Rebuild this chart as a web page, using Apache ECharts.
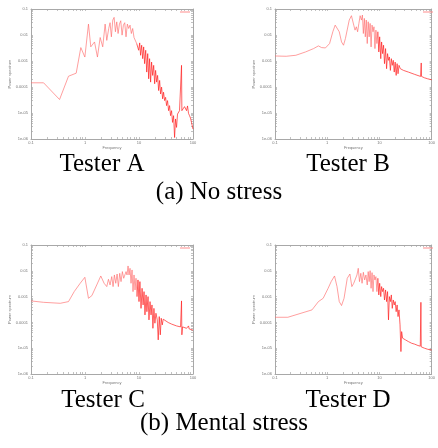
<!DOCTYPE html>
<html>
<head>
<meta charset="utf-8">
<script src="https://cdn.jsdelivr.net/npm/echarts@6/dist/echarts.min.js"></script>
<style>
  html, body { margin: 0; padding: 0; background: #fff; }
  #chart { width: 438px; height: 448px; }
</style>
</head>
<body>
<div id="chart"></div>
<script>
// power spectra (frequency, power)
var freqA = [0.1, 0.171, 0.338, 0.495, 0.687, 0.837, 0.994, 1.16, 1.28, 1.50,
  1.70, 1.91, 2.13, 2.36, 2.53, 2.75, 2.91, 3.08, 3.27, 3.46,
  3.66, 3.87, 4.10, 4.34, 4.59, 4.86, 5.14, 5.44, 5.75, 6.09,
  6.45, 6.82, 7.22, 7.64, 8.09, 8.56, 9.06, 9.58, 9.86, 10.3,
  10.7, 11.2, 11.7, 12.2, 12.7, 13.3, 13.9, 14.5, 15.1, 15.7,
  16.4, 17.1, 17.9, 18.7, 19.5, 20.3, 21.2, 22.1, 23.1, 24.1,
  25.1, 26.2, 27.4, 28.5, 29.8, 31.1, 32.4, 33.8, 35.3, 36.8,
  38.4, 40.1, 41.8, 43.7, 45.6, 47.5, 49.6, 51.7, 54.0, 56.3,
  58.8, 61.3, 62.2, 66.8, 69.7, 72.7, 75.9, 79.2, 82.6, 86.2,
  89.9, 93.8, 100];
var powerA = [1.45e-4, 1.45e-4, 3.3e-5, 2.6e-4, 3.4e-4, 3.28e-3, 1.42e-3, 0.0263, 3.5e-3, 5.4e-3,
  1.42e-3, 8.0e-3, 3.5e-3, 0.0263, 6.2e-3, 0.0178, 0.0297, 8.5e-3, 0.0375, 0.0476,
  0.0133, 0.032, 0.0114, 0.0263, 0.0353, 9.9e-3, 0.024, 0.0297, 8.5e-3, 0.0263,
  0.0178, 0.024, 0.0114, 0.0178, 8.0e-3, 8.5e-3, 4.7e-3, 5.4e-3, 2.59e-3, 4.97e-3,
  1.66e-3, 4.04e-3, 1.23e-3, 3.48e-3, 7.9e-4, 2.59e-3, 3.75e-4, 1.92e-3, 2.07e-4, 1.23e-3,
  1.54e-4, 9.1e-4, 2.79e-4, 6.8e-4, 1.33e-4, 4.35e-4, 1.54e-4, 2.79e-4, 7.3e-5, 1.79e-4,
  5.4e-5, 9.9e-5, 3.5e-5, 6.3e-5, 3.0e-5, 4.0e-5, 1.92e-5, 3.0e-5, 1.23e-5, 1.92e-5,
  7.9e-6, 1.23e-5, 4.35e-6, 7.9e-6, 1.14e-6, 5.9e-6, 2.79e-6, 9.1e-6, 7.9e-6, 1.23e-5,
  1.06e-5, 6.8e-4, 1.23e-5, 1.43e-5, 1.76e-5, 1.56e-5, 1.23e-5, 1.87e-5, 9.7e-6, 7.9e-6,
  6.4e-6, 4.35e-6, 2.4e-6];

var freqB = [0.1, 0.164, 0.251, 0.385, 0.547, 0.678, 0.780, 0.925, 1.11, 1.28,
  1.42, 1.54, 1.70, 1.88, 2.05, 2.23, 2.42, 2.64, 2.91, 3.22,
  3.41, 3.61, 3.82, 4.04, 4.27, 4.52, 4.72, 4.92, 5.14, 5.36,
  5.59, 5.84, 6.09, 6.35, 6.63, 6.92, 7.22, 7.53, 7.86, 8.20,
  8.56, 8.93, 9.32, 9.72, 10.1, 10.6, 11.0, 11.5, 12.0, 12.5,
  13.1, 13.7, 14.3, 14.9, 15.5, 16.2, 16.9, 17.6, 18.4, 19.2,
  20.0, 20.9, 21.8, 22.7, 23.7, 25.1, 28.9, 35.8, 47.5, 61.3,
  63.1, 64.0, 72.7, 83.8, 100];
var powerB = [1.56e-3, 1.52e-3, 1.66e-3, 2.23e-3, 3.0e-3, 3.81e-3, 3.28e-3, 3.18e-3, 4.69e-3, 0.0133,
  0.024, 0.0255, 0.0133, 5.4e-3, 4.04e-3, 7.3e-3, 8.5e-3, 0.0375, 0.0552, 0.024,
  0.0154, 0.0207, 0.0133, 0.0279, 0.0552, 0.0375, 0.0586, 0.0114, 0.0435, 8.5e-3,
  0.0375, 4.69e-3, 0.0323, 8.5e-3, 0.0279, 3.48e-3, 0.024, 0.0133, 0.0207, 3.0e-3,
  0.0154, 4.69e-3, 0.0133, 2.23e-3, 8.5e-3, 1.23e-3, 5.4e-3, 1.92e-3, 4.04e-3, 7.9e-4,
  3.0e-3, 5.05e-4, 1.92e-3, 1.06e-3, 1.43e-3, 4.35e-4, 1.23e-3, 6.8e-4, 1.06e-3, 3.75e-4,
  9.1e-4, 2.79e-4, 7.9e-4, 3.24e-4, 6.8e-4, 5.05e-4, 4.35e-4, 3.75e-4, 3.05e-4, 2.55e-4,
  8.4e-4, 2.55e-4, 2.26e-4, 2.07e-4, 1.89e-4];

var freqC = [0.1, 0.171, 0.348, 0.495, 0.631, 0.814, 0.994, 1.16, 1.34, 1.65,
  1.96, 2.26, 2.53, 2.72, 2.91, 3.13, 3.31, 3.50, 3.71, 3.93,
  4.15, 4.40, 4.65, 4.92, 5.21, 5.51, 5.75, 6.00, 6.27, 6.54,
  6.82, 7.12, 7.43, 7.75, 8.09, 8.44, 8.80, 9.19, 9.58, 10.0,
  10.4, 10.9, 11.4, 11.9, 12.4, 12.9, 13.5, 14.0, 14.7, 15.3,
  16.0, 16.7, 17.4, 18.1, 18.9, 19.7, 20.6, 21.8, 22.7, 23.7,
  24.8, 25.8, 27.0, 28.1, 30.2, 34.8, 40.1, 49.6, 58.8, 61.3,
  62.2, 64.0, 75.9, 82.6, 84.9, 100];
var powerC = [6.8e-4, 6.0e-4, 5.5e-4, 6.4e-4, 1.56e-3, 3.28e-3, 5.6e-3, 8.6e-4, 1.09e-3, 2.83e-3,
  6.3e-3, 3.28e-3, 2.44e-3, 4.69e-3, 2.83e-3, 5.95e-3, 2.44e-3, 6.9e-3, 3.28e-3, 7.5e-3,
  2.44e-3, 8.0e-3, 3.81e-3, 9.3e-3, 5.13e-3, 4.42e-3, 9.3e-3, 6.9e-3, 0.0154, 6.9e-3,
  0.0125, 3.28e-3, 0.0108, 1.56e-3, 6.9e-3, 1.81e-3, 5.13e-3, 1.0e-3, 4.42e-3, 6.4e-4,
  3.81e-3, 3.5e-4, 2.1e-3, 4.75e-4, 1.56e-3, 1.95e-4, 1.16e-3, 2.6e-4, 1.0e-3, 1.25e-4,
  6.4e-4, 1.95e-4, 4.75e-4, 5.9e-5, 3.5e-4, 9.3e-5, 2.26e-4, 1.25e-4, 2.1e-5, 1.68e-4,
  3.3e-5, 1.45e-4, 8.0e-5, 1.33e-4, 1.16e-4, 9.9e-5, 8.6e-5, 7.3e-5, 6.7e-5, 6.8e-4,
  3.3e-5, 6.7e-5, 5.9e-5, 7.3e-5, 5.6e-5, 5.0e-5];

var freqD = [0.1, 0.176, 0.511, 0.678, 0.837, 1.04, 1.19, 1.38, 1.54, 1.70,
  1.88, 2.10, 2.42, 2.72, 2.96, 3.22, 3.50, 3.71, 3.93, 4.15,
  4.40, 4.65, 4.92, 5.21, 5.51, 5.84, 6.09, 6.35, 6.63, 6.92,
  7.22, 7.53, 7.86, 8.20, 8.56, 8.93, 9.32, 9.72, 10.1, 10.6,
  11.0, 11.5, 12.0, 12.5, 13.1, 13.7, 14.3, 14.9, 15.5, 16.2,
  16.9, 17.6, 18.4, 19.2, 20.0, 20.9, 21.8, 22.7, 23.7, 24.8,
  25.8, 26.6, 27.8, 28.9, 30.2, 31.5, 35.8, 41.2, 44.3, 47.5,
  54.7, 60.5, 62.2, 63.1, 72.7, 83.8, 100];
var powerD = [1.58e-4, 1.58e-4, 3.05e-4, 6.4e-4, 8.6e-4, 2.1e-3, 3.81e-3, 6.3e-3, 2.44e-3, 6.4e-4,
  4.5e-4, 8.6e-4, 5.13e-3, 7.5e-3, 2.44e-3, 3.28e-3, 2.83e-3, 6.9e-3, 0.0125, 3.81e-3,
  8.0e-3, 3.28e-3, 8.75e-3, 4.42e-3, 6.9e-3, 2.83e-3, 9.3e-3, 3.81e-3, 0.0101, 2.1e-3,
  8.5e-3, 1.56e-3, 6.9e-3, 4.42e-3, 5.95e-3, 1.56e-3, 5.13e-3, 1.16e-3, 3.28e-3, 1.0e-3,
  2.44e-3, 1.56e-3, 2.1e-3, 7.4e-4, 1.81e-3, 6.4e-4, 1.56e-3, 1.25e-4, 1.0e-3, 6.4e-4,
  1.16e-3, 3.5e-4, 7.4e-4, 4.75e-4, 6.4e-4, 2.6e-4, 4.75e-4, 1.68e-4, 3.05e-4, 8.0e-5,
  7.4e-6, 4.4e-5, 2.44e-5, 2.8e-5, 2.25e-5, 2.1e-5, 1.81e-5, 1.56e-5, 1.81e-5, 1.43e-5,
  1.27e-5, 1.2e-5, 6.0e-4, 1.13e-5, 1.0e-5, 9.1e-6, 8.5e-6];

var xTickLabels = ['0.1', '1', '10', '100'];
var yTickLabels = ['1e-06', '1e-05', '0.0001', '0.001', '0.01', '0.1'];
var testerNames = ['Tester A', 'Tester B', 'Tester C', 'Tester D'];
var groupCaptions = ['(a) No stress', '(b) Mental stress'];

var freqs = [freqA, freqB, freqC, freqD];
var powers = [powerA, powerB, powerC, powerD];

var grids = [
  {left: 31, top: 9, width: 162, height: 130},
  {left: 275, top: 9, width: 161, height: 130},
  {left: 31, top: 245, width: 162, height: 129},
  {left: 275, top: 245, width: 161, height: 129}
];

// gnuplot style log ticks: 1..9 in every decade
function decadeTicks(lo, hi) {
  var out = [];
  for (var e = lo; e < hi; e++) {
    for (var m = 1; m < 10; m++) out.push(+(m * Math.pow(10, e)).toPrecision(3));
  }
  out.push(Math.pow(10, hi));
  return out;
}
var xTicks = decadeTicks(-1, 2);
var yTicks = decadeTicks(-6, -1);

var frameColor = '#a8a8a8';
var labelStyle = {fontSize: 4, color: '#777', fontFamily: 'Liberation Sans'};
var noisyFrom = 9; // above ~9 Hz the trace is so dense it prints darker red

var xAxes = [], yAxes = [], series = [], legends = [];
grids.forEach(function (g, i) {
  ['bottom', 'top'].forEach(function (pos) {
    xAxes.push({
      type: 'log', logBase: 10, gridIndex: i, position: pos, min: 0.1, max: 100,
      name: pos === 'bottom' ? 'Frequency' : '',
      nameLocation: 'middle', nameGap: 7, nameTextStyle: labelStyle,
      axisLine: {show: true, lineStyle: {color: frameColor, width: 1}},
      axisTick: {show: true, inside: true, length: 2, customValues: xTicks,
        lineStyle: {color: frameColor, width: 0.7}},
      axisLabel: {show: pos === 'bottom', margin: 2, fontSize: 4, color: '#777',
        customValues: xTickLabels.map(parseFloat),
        formatter: function (v) { return xTickLabels[Math.round(Math.log10(v)) + 1]; }},
      splitLine: {show: false}
    });
  });
  ['left', 'right'].forEach(function (pos) {
    yAxes.push({
      type: 'log', logBase: 10, gridIndex: i, position: pos, min: 1e-6, max: 0.1,
      name: pos === 'left' ? 'Power spectrum' : '',
      nameLocation: 'middle', nameGap: 19, nameTextStyle: labelStyle,
      axisLine: {show: true, lineStyle: {color: frameColor, width: 1}},
      axisTick: {show: true, inside: true, length: 2, customValues: yTicks,
        lineStyle: {color: frameColor, width: 0.7}},
      axisLabel: {show: pos === 'left', margin: 3, fontSize: 4, color: '#777',
        customValues: yTickLabels.map(parseFloat),
        formatter: function (v) { return yTickLabels[Math.round(Math.log10(v)) + 6]; }},
      splitLine: {show: false}
    });
  });
  var name = testerNames[i];
  var pts = freqs[i].map(function (f, k) { return [f, powers[i][k]]; });
  var cut = freqs[i].findIndex(function (f) { return f >= noisyFrom; });
  series.push({
    name: name, type: 'line', xAxisIndex: 2 * i, yAxisIndex: 2 * i,
    showSymbol: false, symbol: 'none', clip: true,
    itemStyle: {color: '#ff8c8c'},
    lineStyle: {color: '#ff6a6a', width: 0.65},
    data: pts.slice(0, cut + 1)
  });
  series.push({
    name: name + ' ', type: 'line', xAxisIndex: 2 * i, yAxisIndex: 2 * i,
    showSymbol: false, symbol: 'none', clip: true,
    itemStyle: {color: '#ff1f1f'},
    lineStyle: {color: '#ff1f1f', width: 0.7},
    data: pts.slice(cut)
  });
  legends.push({
    data: [name], left: g.left + g.width - 13, top: g.top + 2.5, padding: 0,
    icon: 'rect', itemWidth: 10, itemHeight: 1, selectedMode: false,
    formatter: function () { return ''; }, textStyle: {fontSize: 1}
  });
});

var captions = [
  {text: testerNames[0], x: 102, y: 164},
  {text: testerNames[1], x: 348, y: 164},
  {text: groupCaptions[0], x: 219, y: 192},
  {text: testerNames[2], x: 103, y: 400},
  {text: testerNames[3], x: 348, y: 400},
  {text: groupCaptions[1], x: 224, y: 423}
];

var myChart = echarts.init(document.getElementById('chart'));
myChart.setOption({
  animation: false,
  backgroundColor: '#fff',
  grid: grids,
  xAxis: xAxes,
  yAxis: yAxes,
  legend: legends,
  series: series,
  graphic: captions.map(function (c) {
    return {
      type: 'text', x: c.x, y: c.y, silent: true,
      style: {text: c.text, fill: '#000', font: '25px "Liberation Serif", serif',
        textAlign: 'center', textVerticalAlign: 'middle', align: 'center', verticalAlign: 'middle'}
    };
  })
});
</script>
</body>
</html>
